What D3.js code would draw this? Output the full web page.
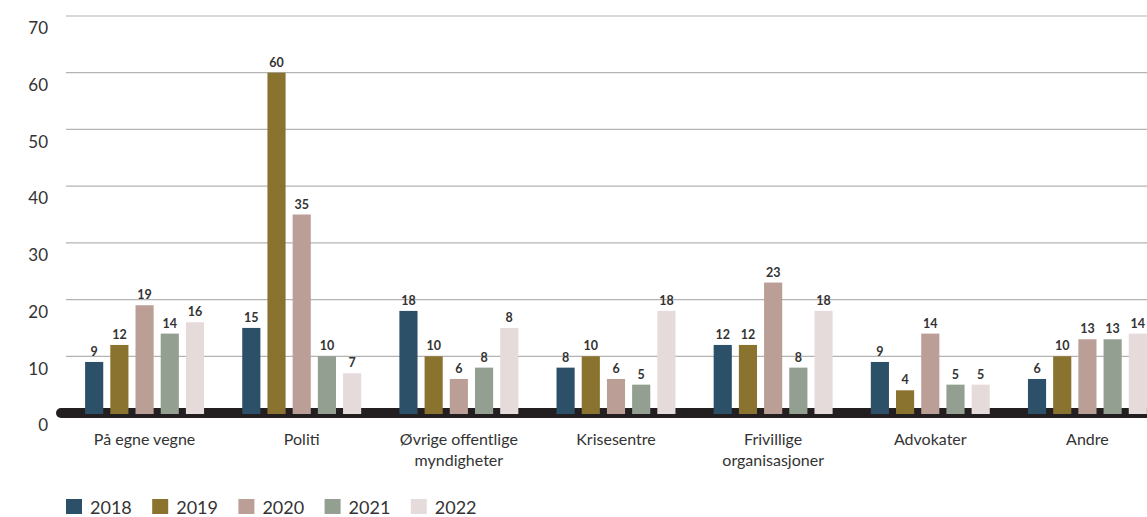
<!DOCTYPE html>
<html>
<head>
<meta charset="utf-8">
<script src="https://cdn.jsdelivr.net/npm/d3@7"></script>
<style>
  body { margin: 0; background: #fff; }
  svg { display: block; font-family: "Lato", "Open Sans", sans-serif; }
</style>
</head>
<body>
<div id="chart"></div>
<script>
// kategorier og år
var categories = ["På egne vegne", "Politi", "Øvrige offentlige|myndigheter", "Krisesentre", "Frivillige|organisasjoner", "Advokater", "Andre"];
var years = ["2018", "2019", "2020", "2021", "2022"];

// verdier per år (søylehøyde)
var values2018 = [9, 15, 18, 8, 12, 9, 6];
var values2019 = [12, 60, 10, 10, 12, 4, 10];
var values2020 = [19, 35, 6, 6, 23, 14, 13];
var values2021 = [14, 10, 8, 5, 8, 5, 13];
var values2022 = [16, 7, 15, 18, 18, 5, 14];
// tallet som står over søylen (2022 Øvrige viser 8 i originalen)
var labels2022 = [16, 7, 8, 18, 18, 5, 14];

var yTicks = [0, 10, 20, 30, 40, 50, 60, 70];
var colors = ["#2c5068", "#8a722f", "#bb9f96", "#939f91", "#e6dbdb"];

var series = [values2018, values2019, values2020, values2021, values2022];
var labels = [values2018, values2019, values2020, values2021, labels2022];

var width = 1147, height = 517;

var svg = d3.select("#chart").append("svg")
  .attr("width", width)
  .attr("height", height);

var y = d3.scaleLinear().domain([0, 70]).range([413, 16]);

var x0 = d3.scaleBand()
  .domain(categories)
  .range([66, 1166]);

var x1 = d3.scaleBand()
  .domain(years)
  .range([-63, 63])
  .paddingInner(0.28)
  .paddingOuter(0.14);

// gridlines
svg.append("g").selectAll("line")
  .data(yTicks.filter(function (d) { return d > 0; }))
  .enter().append("line")
  .attr("x1", 66).attr("x2", width)
  .attr("y1", function (d) { return y(d); })
  .attr("y2", function (d) { return y(d); })
  .attr("stroke", "#b3b3b3")
  .attr("stroke-width", 1.2);

// y-aksen tekst
var yAxis = d3.axisLeft(y).tickValues(yTicks).tickSize(0).tickPadding(0);
var gy = svg.append("g")
  .attr("transform", "translate(48,0)")
  .call(yAxis);
gy.select(".domain").remove();
gy.selectAll("text")
  .attr("dy", "1.05em")
  .style("font-size", "17px")
  .style("fill", "#333")
  .style("font-family", "Lato, sans-serif");

// tykk null-linje
svg.append("line")
  .attr("x1", 61).attr("x2", width + 10)
  .attr("y1", y(0)).attr("y2", y(0))
  .attr("stroke", "#231f20")
  .attr("stroke-width", 10)
  .attr("stroke-linecap", "round");

// søyler
var groups = svg.append("g").selectAll("g")
  .data(categories)
  .enter().append("g")
  .attr("transform", function (d) { return "translate(" + (x0(d) + x0.bandwidth() / 2) + ",0)"; });

groups.each(function (cat, ci) {
  var g = d3.select(this);
  years.forEach(function (yr, si) {
    var v = series[si][ci];
    g.append("rect")
      .attr("x", x1(yr))
      .attr("width", x1.bandwidth())
      .attr("y", y(v))
      .attr("height", y(0) + 1 - y(v))
      .attr("fill", colors[si]);
    g.append("text")
      .attr("x", x1(yr) + x1.bandwidth() / 2)
      .attr("y", y(v) - 6)
      .attr("text-anchor", "middle")
      .style("font-size", "12.5px")
      .style("font-weight", "bold")
      .style("fill", "#333")
      .text(labels[si][ci]);
  });
  // kategori-tekst
  var lines = cat.split("|");
  var t = g.append("text")
    .attr("text-anchor", "middle")
    .attr("y", 445)
    .style("font-size", "16px")
    .style("fill", "#333");
  lines.forEach(function (l, li) {
    t.append("tspan").attr("x", 0).attr("dy", li === 0 ? 0 : 21).text(l);
  });
});

// legende
var legend = svg.append("g").selectAll("g")
  .data(years)
  .enter().append("g")
  .attr("transform", function (d, i) { return "translate(" + (66 + i * 86.2) + ",499)"; });

legend.append("rect")
  .attr("width", 16).attr("height", 15)
  .attr("fill", function (d, i) { return colors[i]; });

legend.append("text")
  .attr("x", 24).attr("y", 14.5)
  .style("font-size", "18px")
  .style("fill", "#333")
  .text(function (d) { return d; });
</script>
</body>
</html>
